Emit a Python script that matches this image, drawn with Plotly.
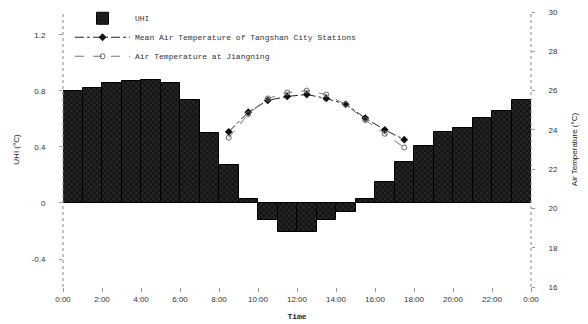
import plotly.graph_objects as go

# Data
hours = list(range(24))
uhi = [0.80, 0.82, 0.855, 0.87, 0.88, 0.855, 0.735, 0.50, 0.27, 0.03,
       -0.12, -0.21, -0.21, -0.12, -0.065, 0.03, 0.15, 0.295, 0.41, 0.51,
       0.535, 0.61, 0.66, 0.735]
temp_hours = [8, 9, 10, 11, 12, 13, 14, 15, 16, 17]
mean_city_temp = [23.9, 24.9, 25.5, 25.7, 25.8, 25.6, 25.3, 24.6, 24.0, 23.5]
site_temp = [23.6, 24.8, 25.6, 25.9, 26.0, 25.8, 25.3, 24.5, 23.8, 23.1]
tick_hours = [0, 2, 4, 6, 8, 10, 12, 14, 16, 18, 20, 22, 24]
tick_labels = ["0:00", "2:00", "4:00", "6:00", "8:00", "10:00", "12:00",
               "14:00", "16:00", "18:00", "20:00", "22:00", "0:00"]

temp_x = [h + 0.5 for h in temp_hours]

fig = go.Figure()
fig.add_trace(go.Bar(
    x=hours, y=uhi, width=1, offset=0, name="UHI",
    marker=dict(color="#1a1a1a", line=dict(color="black", width=1),
                pattern=dict(shape="x", fgcolor="#9a9a9a", bgcolor="#151515",
                             size=4, solidity=0.15)),
))
fig.add_trace(go.Scatter(
    x=temp_x, y=mean_city_temp, yaxis="y2", mode="lines+markers",
    name="Mean Air Temperature of Tangshan City Stations",
    line=dict(color="#222", width=1, dash="dashdot"),
    marker=dict(symbol="diamond", size=6, color="#111"),
))
fig.add_trace(go.Scatter(
    x=temp_x, y=site_temp, yaxis="y2", mode="lines+markers",
    name="Air Temperature at Jiangning",
    line=dict(color="#777", width=1, dash="dash"),
    marker=dict(symbol="circle-open", size=5, color="#666", line=dict(width=1)),
))

tickfont = dict(family="Liberation Sans, Arial", size=8, color="#333")
fig.update_layout(
    width=588, height=324,
    margin=dict(l=63, r=57, t=12, b=37, autoexpand=False),
    paper_bgcolor="white", plot_bgcolor="white",
    bargap=0,
    showlegend=True,
    legend=dict(x=0.015, y=1.03, xanchor="left", yanchor="top",
                bgcolor="rgba(255,255,255,0)", itemwidth=55,
                font=dict(family="Liberation Mono, monospace", size=8, color="#333"),
                tracegroupgap=0, traceorder="normal"),
    xaxis=dict(range=[0, 24], tickvals=tick_hours, ticktext=tick_labels,
               showgrid=False, zeroline=False, showline=False, automargin=False,
               ticks="outside", ticklen=4, tickcolor="#999",
               tickfont=tickfont,
               title=dict(text="<b>Time</b>", font=dict(family="Liberation Mono, monospace", size=8, color="#222"), standoff=10)),
    yaxis=dict(range=[-0.6, 1.364], tickvals=[-0.4, 0, 0.4, 0.8, 1.2],
               ticktext=["-0.4", "0", "0.4", "0.8", "1.2"],
               showgrid=False, zeroline=False, showline=False, automargin=False,
               ticks="outside", ticklen=3, tickcolor="#999", ticklabelstandoff=12,
               tickfont=tickfont,
               title=dict(text="UHI (°C)", font=dict(family="Liberation Sans, Arial", size=8, color="#222"), standoff=10)),
    yaxis2=dict(range=[16, 30], tickvals=[16, 18, 20, 22, 24, 26, 28, 30],
                overlaying="y", side="right", automargin=False,
                showgrid=False, zeroline=False, showline=False,
                ticks="outside", ticklen=3, tickcolor="#999", ticklabelstandoff=12,
                tickfont=tickfont,
                title=dict(text="Air Temperature (°C)", font=dict(family="Liberation Sans, Arial", size=8, color="#222"), standoff=14)),
    shapes=[
        dict(type="line", xref="paper", yref="paper", x0=0, x1=0, y0=0, y1=1,
             line=dict(color="#888", width=1, dash="dot")),
        dict(type="line", xref="paper", yref="paper", x0=1, x1=1, y0=0, y1=1,
             line=dict(color="#888", width=1, dash="dot")),
    ],
)

fig.write_html("out.html", config={"displayModeBar": False},
               post_script="document.body.style.margin='0';")
